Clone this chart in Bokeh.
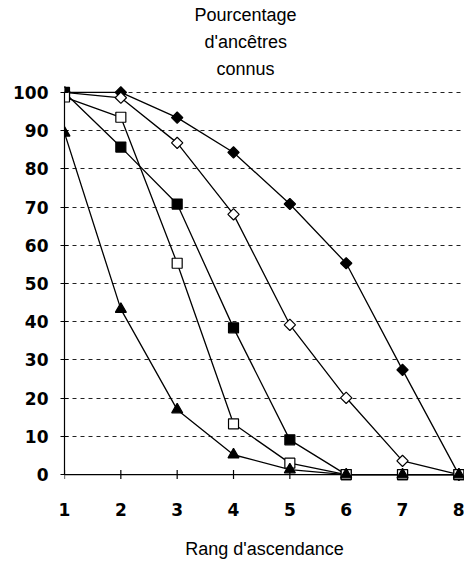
from bokeh.plotting import figure
from bokeh.models import Range1d, FixedTicker, Title, Span
from bokeh.embed import file_html
from bokeh.resources import INLINE

# ---- data ----
rang = [1, 2, 3, 4, 5, 6, 7, 8]
filled_diamond = [100, 100, 93.4, 84.3, 70.8, 55.3, 27.4, 0]
open_diamond = [100, 98.6, 86.8, 68.1, 39.2, 20.1, 3.6, 0]
filled_square = [100, 85.7, 70.8, 38.4, 9.1, 0, 0, 0]
open_square = [98.8, 93.5, 55.3, 13.3, 3.0, 0, 0, 0]
triangle = [89.4, 43.3, 17.0, 5.2, 1.3, 0, 0, 0]
y_ticks = [0, 10, 20, 30, 40, 50, 60, 70, 80, 90, 100]
x_ticks = [1, 2, 3, 4, 5, 6, 7, 8]
title_lines = ["Pourcentage", "d'ancêtres", "connus"]
x_label = "Rang d'ascendance"

FONT = "Liberation Sans"
TICK_FONT = "DejaVu Sans"

p = figure(width=464, height=561, output_backend="svg", toolbar_location=None,
           title=None,
           x_range=Range1d(1, 8.1), y_range=Range1d(-1.8, 102.86),
           min_border_left=64, min_border_right=0, min_border_top=80,
           min_border_bottom=79)
p.outline_line_color = None
p.background_fill_color = "white"

# grid
p.xgrid.grid_line_color = None
p.ygrid.ticker = FixedTicker(ticks=y_ticks[1:])
p.ygrid.grid_line_color = "#222222"
p.ygrid.grid_line_dash = "4 4"
p.ygrid.grid_line_width = 1

# axes
p.yaxis.ticker = FixedTicker(ticks=y_ticks)
p.xaxis.ticker = FixedTicker(ticks=x_ticks)
for ax in (p.xaxis, p.yaxis):
    ax.axis_line_color = "black"
    ax.axis_line_width = 1.2
    ax.major_tick_line_color = "black"
    ax.major_tick_line_width = 1.2
    ax.minor_tick_line_color = None
    ax.major_label_text_font = TICK_FONT
    ax.major_label_text_font_style = "bold"
    ax.major_label_text_font_size = "17px"
    ax.major_label_text_color = "black"
p.yaxis.bounds = (0, 100)
p.yaxis.major_tick_in = 4
p.yaxis.major_tick_out = 4
p.yaxis.major_label_standoff = 12

# x axis: line drawn at y = 0 by a span, tick marks drawn as dashes crossing it
p.xaxis.axis_line_color = None
p.xaxis.major_tick_line_color = None
p.xaxis.major_tick_in = 0
p.xaxis.major_tick_out = 0
p.xaxis.major_label_standoff = 21
p.xaxis.axis_label = x_label
p.xaxis.axis_label_text_font = FONT
p.xaxis.axis_label_text_font_style = "normal"
p.xaxis.axis_label_text_font_size = "18px"
p.xaxis.axis_label_text_color = "black"
p.xaxis.axis_label_standoff = 20
p.add_layout(Span(location=0, dimension="width", line_color="black",
                  line_width=1.2, level="underlay"))
p.scatter(x_ticks, [0] * len(x_ticks), marker="dash", size=9, angle=1.570796,
          line_color="black", line_width=1.2, level="underlay")

LW = 1.3
series = [
    (filled_diamond, "square", "black", 8, 0.785398),
    (open_diamond, "square", "white", 8, 0.785398),
    (filled_square, "square", "black", 10, 0),
    (open_square, "square", "white", 10, 0),
    (triangle, "triangle", "black", 11, 0),
]
for vals, *_ in series:
    p.line(rang, vals, line_color="black", line_width=LW)
for vals, marker, fill, size, ang in series:
    p.scatter(rang, vals, marker=marker, size=size, angle=ang,
              fill_color=fill, line_color="black", line_width=1.2)

# title: three centred lines above the plot (nearest line added first)
offsets = [152, 140, 130]
for txt, off in zip(reversed(title_lines), offsets):
    p.add_layout(Title(text=txt, align="left", offset=off, text_font=FONT,
                       text_font_size="18px", text_font_style="normal",
                       text_color="black", standoff=5), "above")

open("out.html", "w").write(file_html(p, INLINE))
